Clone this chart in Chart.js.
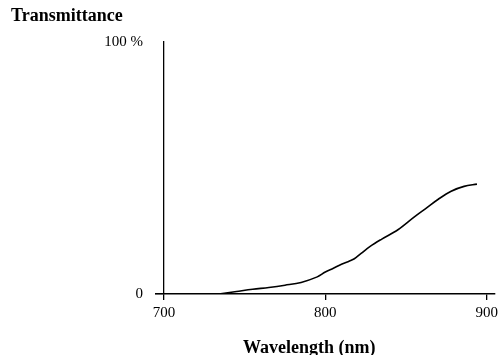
<!DOCTYPE html>
<html>
<head>
<meta charset="utf-8">
<script src="https://cdn.jsdelivr.net/npm/chart.js@4.4.0/dist/chart.umd.min.js"></script>
<style>
  html, body { margin: 0; padding: 0; background: #fff; }
  #wrap { position: relative; width: 502px; height: 355px; }
  canvas { position: absolute; left: 0; top: 0; }
  .lbl { position: absolute; font-family: "Liberation Serif", "DejaVu Serif", serif; font-weight: bold; font-size: 18px; color: #000; white-space: nowrap; line-height: 1; }
</style>
</head>
<body>
<div id="wrap">
  <canvas id="c" width="502" height="355"></canvas>
  <div class="lbl" id="ytitle" style="left:11px; top:6px;">Transmittance</div>
  <div class="lbl" id="xtitle" style="left:243px; top:338px;">Wavelength (nm)</div>
</div>
<script>
// Data
const wavelengths = [734, 745, 755, 765, 775, 785, 795, 800, 805, 810, 815, 818, 822, 828, 835, 845, 855, 862, 870, 878, 886, 894];
const transmittance = [0, 1.0, 1.9, 2.6, 3.5, 4.6, 6.8, 8.7, 10.2, 11.8, 13.1, 14.0, 16.0, 19.0, 21.8, 25.5, 30.5, 33.8, 37.6, 40.8, 42.7, 43.6];
const xTicks = [700, 800, 900];
const yTicks = [0, 100];
const yTickLabels = {0: "0", 100: "100 %"};

const points = wavelengths.map((w, i) => ({x: w, y: transmittance[i]}));
const tickFont = {family: "Liberation Serif", size: 15};

new Chart(document.getElementById('c'), {
  type: 'line',
  data: {
    datasets: [{
      data: points,
      borderColor: '#000',
      borderWidth: 1.6,
      pointRadius: 0,
      tension: 0.35,
      fill: false
    }]
  },
  options: {
    responsive: false,
    animation: false,
    events: [],
    layout: { padding: { left: 10, right: 4, top: 42, bottom: 0 } },
    plugins: { legend: { display: false }, tooltip: { enabled: false }, title: { display: false } },
    scales: {
      x: {
        type: 'linear',
        min: 700,
        max: 905,
        afterBuildTicks: (s) => { s.ticks = xTicks.map(v => ({value: v})); },
        afterFit: (s) => { s.height = 61; },
        ticks: { font: tickFont, color: '#000', padding: 4, maxRotation: 0, callback: (v) => String(v) },
        grid: { display: true, drawOnChartArea: false, drawTicks: true, tickLength: 6, color: '#000', lineWidth: 1.3 },
        border: { display: true, color: '#000', width: 1.6 }
      },
      y: {
        type: 'linear',
        min: 0,
        max: 100,
        afterBuildTicks: (s) => { s.ticks = yTicks.map(v => ({value: v})); },
        afterFit: (s) => { s.width = 154; },
        ticks: { font: tickFont, color: '#000', padding: 12, callback: (v) => yTickLabels[v] },
        grid: { display: true, drawOnChartArea: false, drawTicks: true, tickLength: 9,
                color: (ctx) => (ctx.tick && ctx.tick.value === 0) ? '#000' : 'rgba(0,0,0,0)', lineWidth: 1.6 },
        border: { display: true, color: '#000', width: 1.3 }
      }
    }
  }
});
</script>
</body>
</html>
